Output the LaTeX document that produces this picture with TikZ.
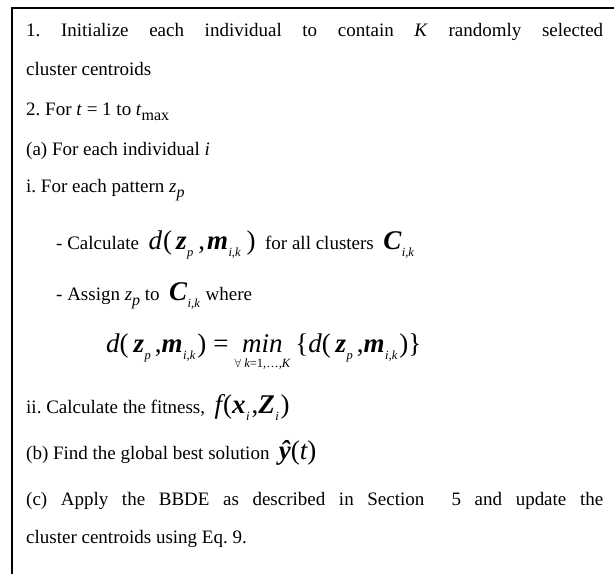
\documentclass[tikz,border=0pt]{standalone}
\usepackage{fontspec}
\setmainfont{Liberation Serif}
\frenchspacing
% sizes for the formula pieces
\newcommand{\mth}{\fontsize{27}{27}\selectfont}
\newcommand{\vb}[1]{{\mth\bfseries\itshape #1}}
\newcommand{\vi}[1]{{\mth\itshape #1}}
\newcommand{\mpunct}[1]{{\mth #1}}
\newcommand{\lowsub}[1]{\kern0.5pt\raisebox{-7pt}{\fontsize{12.5}{12.5}\selectfont\itshape #1}\kern1pt}
\newcommand{\txsub}[1]{\raisebox{-0.3em}{\fontsize{16}{16}\selectfont #1}}
% distance d(z_p, m_ik), loosely spaced
\newcommand{\dzm}{\vi{d}\kern1pt\mpunct{(}\kern4pt\vb{z}\lowsub{p}\kern4pt\mpunct{,}\kern2pt\vb{m}\lowsub{i,k}\kern5pt\mpunct{)}}
\newcommand{\dzmb}{\vi{d}\mpunct{(}\kern5pt\vb{z}\lowsub{p}\kern3pt\mpunct{,}\vb{m}\lowsub{i,k}\kern1pt\mpunct{)}}
% limits set under "min"
\newcommand{\rangesub}{\hbox{\fontsize{12.5}{12.5}\selectfont\rule{0pt}{14pt}$\forall$ \itshape k\upshape=1,\ldots,\itshape K}}
\tikzset{
  line/.style={anchor=base west, inner sep=0pt, font=\fontsize{19}{19}\selectfont},
  frame/.style={line width=1.6pt, black}
}
\begin{document}
\begin{tikzpicture}[x=1pt,y=-1pt]
\useasboundingbox (0,0) rectangle (614,574);
\fill[white] (0,0) rectangle (614,574);
% open frame: top and left rule only
\coordinate (fbl) at (12,574);
\coordinate (ftl) at (12,8);
\coordinate (ftr) at (614,8);
\draw[frame] (fbl) -- (ftl) -- (ftr);

\node[line] (l1) at (26,36) {\makebox[577pt][s]{1. Initialize each individual to contain \textit{K} randomly selected}};
\node[line] (l2) at (26,75) {cluster centroids};
\node[line] (l3) at (26,115) {2. For \textit{t} = 1 to \textit{t}\txsub{max}};
\node[line] (l4) at (26,155) {(a) For each individual \textit{i}};
\node[line] (l5) at (26,192) {i. For each pattern \textit{z}\txsub{\itshape p}};
\node[line] (l6) at (56,249) {- Calculate \ \dzm\ \ for all clusters \ \vb{C}\lowsub{i,k}};
\node[line] (l7) at (56,300) {- Assign \textit{z}\txsub{\itshape p} to \ \vb{C}\lowsub{i,k} \ where};
\node[line] (l8) at (106,352) {\dzmb\kern7pt\mpunct{=}\kern6pt$\displaystyle\mathop{\hbox{\mth\itshape min}}\limits_{\rangesub}$\kern5pt\mpunct{\{}\dzmb\mpunct{\}}};
\node[line] (l9) at (26,413) {ii. Calculate the fitness, \ \vi{f}\kern1pt\mpunct{(}\vb{x}\lowsub{i}\kern1pt\mpunct{,}\vb{Z}\lowsub{i}\kern1pt\mpunct{)}};
\node[line] (l10) at (26,459) {(b) Find the global best solution \ \vb{ŷ}\mpunct{(}\vi{t}\mpunct{)}};
\node[line] (l11) at (26,505) {\makebox[577pt][s]{(c) Apply the BBDE as described in Section \ 5 and update the}};
\node[line] (l12) at (26,543) {cluster centroids using Eq. 9.};
\end{tikzpicture}
\end{document}
